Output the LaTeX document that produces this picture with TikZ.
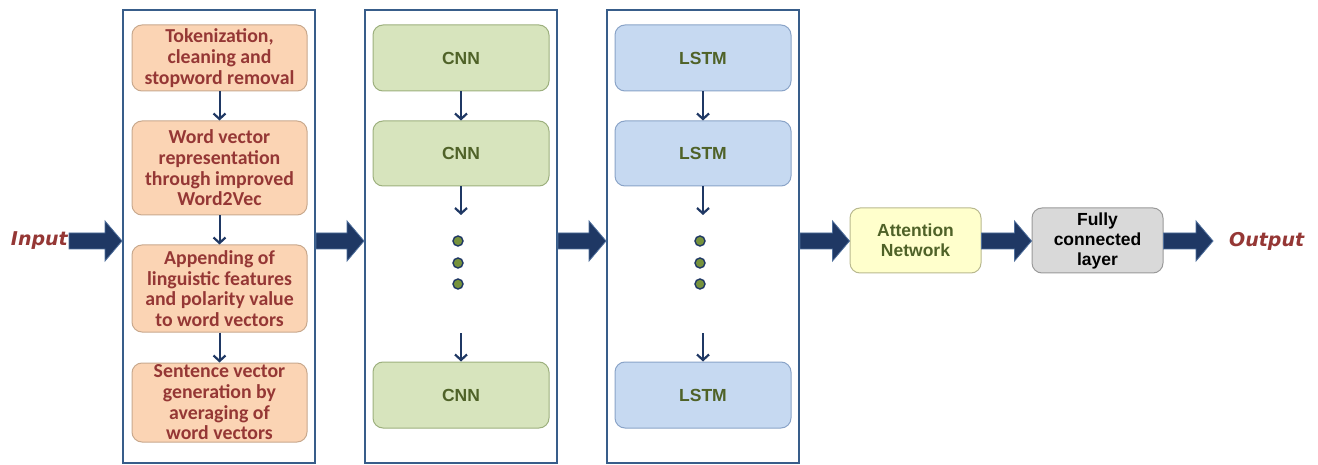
\documentclass[tikz,border=0pt]{standalone}
\usepackage{fontspec}
\setmainfont{Carlito}
\newfontfamily\headfont{Liberation Sans}
\newfontfamily\iofont{DejaVu Sans}
\usetikzlibrary{arrows.meta,calc}

\definecolor{panelc}{HTML}{385D8A}
\definecolor{navy}{HTML}{1F3864}
\definecolor{navyedge}{HTML}{4F6F9C}
\definecolor{prepf}{HTML}{FBD4B4}
\definecolor{prepb}{HTML}{C9A98E}
\definecolor{prept}{HTML}{953735}
\definecolor{cnnf}{HTML}{D7E4BD}
\definecolor{cnnb}{HTML}{9DB07E}
\definecolor{olive}{HTML}{4F6228}
\definecolor{lstmf}{HTML}{C6D9F1}
\definecolor{lstmb}{HTML}{8AA4C8}
\definecolor{attf}{HTML}{FFFFCC}
\definecolor{attb}{HTML}{B9B98F}
\definecolor{fcf}{HTML}{D9D9D9}
\definecolor{fcb}{HTML}{9A9A9A}
\definecolor{dotf}{HTML}{76923C}

\tikzset{
  panel/.style={draw=panelc, line width=2pt, fill=white, minimum width=192pt,
    minimum height=453pt, inner sep=0pt},
  box/.style={rounded corners=10pt, line width=1pt, inner sep=0pt, align=center},
  prepbox/.style={box, draw=prepb, fill=prepf, text=prept, minimum width=175pt,
    font=\fontsize{19.8}{20.7}\selectfont\bfseries},
  cnnbox/.style={box, draw=cnnb, fill=cnnf, text=olive, minimum width=176pt,
    minimum height=66pt, font=\headfont\fontsize{17.5}{20}\selectfont\bfseries},
  lstmbox/.style={cnnbox, draw=lstmb, fill=lstmf},
  endbox/.style={box, minimum width=131pt, minimum height=65pt,
    font=\headfont\fontsize{17.5}{20}\selectfont\bfseries},
  iotext/.style={text=prept, inner sep=1pt,
    font=\iofont\fontsize{19}{22}\selectfont\bfseries\itshape},
  flow/.style={draw=navy, line width=2pt,
    -{Straight Barb[length=5.5pt,width=12pt,line width=2.2pt]}},
  dotmark/.style={circle, fill=dotf, draw=navy, line width=1.4pt,
    minimum size=10pt, inner sep=0pt},
  fat/.style={fill=navy, draw=navyedge, line width=0.8pt,
    to path={let \p1=(\tikztostart), \p2=(\tikztotarget) in
      (\x1,\y1+8pt) -- (\x2-17pt,\y1+8pt) -- (\x2-17pt,\y1+20pt) -- (\x2,\y1)
      -- (\x2-17pt,\y1-20pt) -- (\x2-17pt,\y1-8pt) -- (\x1,\y1-8pt) -- cycle}},
}

\begin{document}
\begin{tikzpicture}[x=1pt,y=-1pt]
\useasboundingbox (0,0) rectangle (1318,465);

% three stage panels
\node[panel] (p1) at (219,236.5) {};
\node[panel] (p2) at (461,236.5) {};
\node[panel] (p3) at (703,236.5) {};

% preprocessing steps
\node[prepbox, minimum height=66pt] (t1) at (219.5,58)
  {Tokenization,\\cleaning and\\stopword removal};
\node[prepbox, minimum height=94pt] (t2) at (219.5,168)
  {Word vector\\representation\\through improved\\Word2Vec};
\node[prepbox, minimum height=87pt] (t3) at (219.5,288.5)
  {Appending of\\linguistic features\\and polarity value\\to word vectors};
\node[prepbox, minimum height=79pt] (t4) at (219.5,402.5)
  {Sentence vector\\generation by\\averaging of\\word vectors};
\draw[flow] (t1) -- (t2);
\draw[flow] (t2) -- (t3);
\draw[flow] (t3) -- (t4);

% CNN stack
\node[cnnbox] (c1) at (461,58) {CNN};
\node[cnnbox, minimum height=65pt] (c2) at (461,153.5) {CNN};
\node[cnnbox] (c3) at (461,395) {CNN};
\coordinate (c2e) at (461,215);
\coordinate (c3s) at (461,333);
\draw[flow] (c1) -- (c2);
\draw[flow] (c2) -- (c2e);
\draw[flow] (c3s) -- (c3);
\node[dotmark] (cd1) at (458,241) {};
\node[dotmark] (cd2) at (458,263) {};
\node[dotmark] (cd3) at (458,284) {};

% LSTM stack
\node[lstmbox] (l1) at (703,58) {LSTM};
\node[lstmbox, minimum height=65pt] (l2) at (703,153.5) {LSTM};
\node[lstmbox] (l3) at (703,395) {LSTM};
\coordinate (l2e) at (703,215);
\coordinate (l3s) at (703,333);
\draw[flow] (l1) -- (l2);
\draw[flow] (l2) -- (l2e);
\draw[flow] (l3s) -- (l3);
\node[dotmark] (ld1) at (700,241) {};
\node[dotmark] (ld2) at (700,263) {};
\node[dotmark] (ld3) at (700,284) {};

% attention and output layers
\node[endbox, draw=attb, fill=attf, text=olive] (att) at (915.5,240.5)
  {Attention\\Network};
\node[endbox, draw=fcb, fill=fcf, text=black] (fc) at (1097.5,240.5)
  {Fully\\connected\\layer};

% input / output labels
\node[iotext, anchor=east] (in) at (69,241) {Input};
\node[iotext, anchor=west] (out) at (1228,241) {Output};
\coordinate (axis) at (0,241);
\coordinate (outtip) at (1213,241);

% block arrows along the main flow
\path[fat] (in.east |- axis) to (p1.west |- axis);
\path[fat] (p1.east |- axis) to (p2.west |- axis);
\path[fat] (p2.east |- axis) to (p3.west |- axis);
\path[fat] (p3.east |- axis) to (att.west |- axis);
\path[fat] (att.east |- axis) to (fc.west |- axis);
\path[fat] (fc.east |- axis) to (outtip);
\end{tikzpicture}
\end{document}
